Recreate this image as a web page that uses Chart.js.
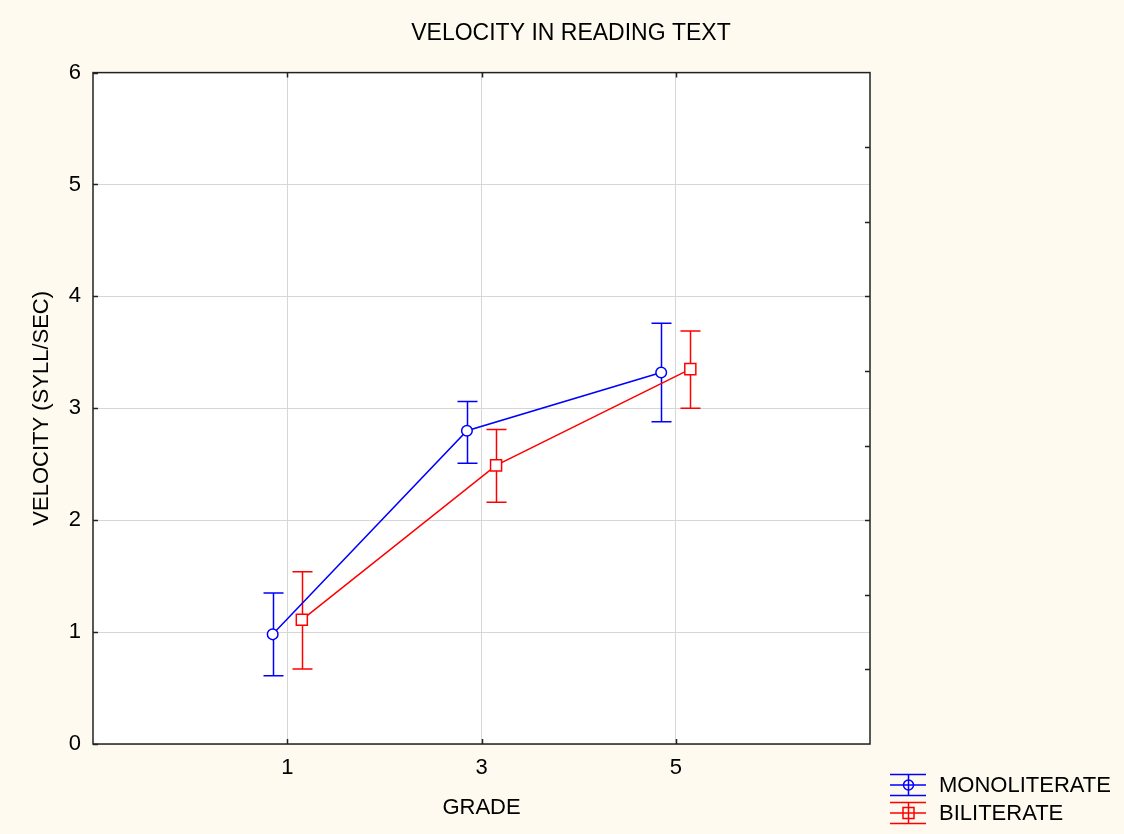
<!DOCTYPE html>
<html><head><meta charset="utf-8">
<script src="https://cdn.jsdelivr.net/npm/chart.js@4/dist/chart.umd.min.js"></script>
<style>html,body{margin:0;padding:0;background:#fefaef;} canvas{display:block;}</style>
</head><body><canvas id="c" width="1124" height="834"></canvas>
<script>
const grades = [1, 3, 5];
const tickLabels = ['1', '3', '5'];
const seriesNames = ['MONOLITERATE', 'BILITERATE'];
const monoMean = [0.98, 2.80, 3.32];
const monoLow  = [0.61, 2.51, 2.88];
const monoHigh = [1.35, 3.06, 3.76];
const biliMean = [1.11, 2.49, 3.35];
const biliLow  = [0.67, 2.16, 3.00];
const biliHigh = [1.54, 2.81, 3.69];

const FONT = "'Liberation Sans', Arial, sans-serif";
const BLUE = '#0000ff', RED = '#ff0000';
const MONO_SHIFT = -0.15, BILI_SHIFT = 0.15;

const decor = {
  id: 'decor',
  beforeDraw(chart) {
    const ctx = chart.ctx, a = chart.chartArea;
    ctx.save();
    ctx.fillStyle = '#fefaef';
    ctx.fillRect(0, 0, chart.width, chart.height);
    ctx.fillStyle = '#ffffff';
    ctx.fillRect(a.left, a.top, a.right - a.left, a.bottom - a.top);
    ctx.restore();
  },
  beforeDatasetsDraw(chart) {
    const ctx = chart.ctx, ys = chart.scales.y;
    ctx.save();
    chart.data.datasets.forEach((ds, di) => {
      const meta = chart.getDatasetMeta(di);
      ctx.strokeStyle = ds.borderColor;
      ctx.lineWidth = 1.5;
      meta.data.forEach((pt, i) => {
        const x = Math.round(pt.x) + 0.5;
        const yl = ys.getPixelForValue(ds.errLow[i]);
        const yh = ys.getPixelForValue(ds.errHigh[i]);
        ctx.beginPath();
        ctx.moveTo(x, yl); ctx.lineTo(x, yh);
        ctx.moveTo(x - 10, yl); ctx.lineTo(x + 10, yl);
        ctx.moveTo(x - 10, yh); ctx.lineTo(x + 10, yh);
        ctx.stroke();
      });
    });
    ctx.restore();
  },
  afterDraw(chart) {
    const ctx = chart.ctx, a = chart.chartArea, ys = chart.scales.y, xs = chart.scales.x;
    ctx.save();
    ctx.strokeStyle = '#222';
    ctx.lineWidth = 1.5;
    ctx.strokeRect(a.left, a.top, a.right - a.left, a.bottom - a.top);
    ctx.lineWidth = 1.5;
    ctx.beginPath();
    ys.ticks.forEach(t => {
      const y = Math.round(ys.getPixelForValue(t.value)) + 0.5;
      ctx.moveTo(a.left, y); ctx.lineTo(a.left + 5, y);
    });
    for (let k = 1; k < 9; k++) {
      const y = Math.round(ys.getPixelForValue(k * 6 / 9)) + 0.5;
      ctx.moveTo(a.right, y); ctx.lineTo(a.right - 5, y);
    }
    xs.ticks.forEach(t => {
      const x = Math.round(xs.getPixelForValue(t.value)) + 0.5;
      ctx.moveTo(x, a.bottom); ctx.lineTo(x, a.bottom - 5);
      ctx.moveTo(x, a.top); ctx.lineTo(x, a.top + 5);
    });
    ctx.stroke();

    // legend
    const rows = [785, 813];
    chart.data.datasets.forEach((ds, di) => {
      const cy = rows[di];
      ctx.strokeStyle = ds.borderColor;
      ctx.lineWidth = 1.5;
      ctx.beginPath();
      [-10.5, 0, 10.5].forEach(d => { ctx.moveTo(890, cy + d); ctx.lineTo(926, cy + d); });
      ctx.moveTo(908.5, cy - 10.5); ctx.lineTo(908.5, cy + 10.5);
      ctx.stroke();
      ctx.beginPath();
      if (ds.pointStyle === 'circle') ctx.arc(908.5, cy, 5, 0, Math.PI * 2);
      else ctx.rect(903, cy - 5.5, 11, 11);
      ctx.stroke();
      ctx.fillStyle = '#000';
      ctx.font = '22px ' + FONT;
      ctx.textBaseline = 'middle';
      ctx.textAlign = 'left';
      ctx.fillText(seriesNames[di], 939, cy + 1);
    });
    ctx.restore();
  }
};

new Chart(document.getElementById('c'), {
  type: 'line',
  data: {
    datasets: [
      {
        label: seriesNames[0],
        data: grades.map((g, i) => ({ x: g + MONO_SHIFT, y: monoMean[i] })),
        errLow: monoLow, errHigh: monoHigh,
        borderColor: BLUE, backgroundColor: '#ffffff', borderWidth: 1.5,
        pointStyle: 'circle', pointRadius: 5.3, pointBorderWidth: 1.5,
        pointBackgroundColor: '#ffffff', pointBorderColor: BLUE, tension: 0
      },
      {
        label: seriesNames[1],
        data: grades.map((g, i) => ({ x: g + BILI_SHIFT, y: biliMean[i] })),
        errLow: biliLow, errHigh: biliHigh,
        borderColor: RED, backgroundColor: '#ffffff', borderWidth: 1.5,
        pointStyle: 'rect', pointRadius: 7.8, pointBorderWidth: 1.5,
        pointBackgroundColor: '#ffffff', pointBorderColor: RED, tension: 0
      }
    ]
  },
  options: {
    responsive: false,
    animation: false,
    devicePixelRatio: 1,
    layout: { padding: { left: 18, right: 0, top: 0, bottom: 0 } },
    plugins: {
      legend: { display: false },
      tooltip: { enabled: false },
      title: {
        display: true, text: 'VELOCITY IN READING TEXT', color: '#000',
        font: { family: FONT, size: 23, weight: 'normal' },
        padding: { top: 20, bottom: 25 }
      }
    },
    scales: {
      x: {
        type: 'linear', min: -1, max: 7,
        afterBuildTicks: s => { s.ticks = grades.map(v => ({ value: v })); },
        afterFit: s => { s.height = 90; },
        ticks: {
          callback: (v, i) => tickLabels[i],
          color: '#000', font: { family: FONT, size: 22 }, padding: 11, maxRotation: 0
        },
        grid: { color: '#d6d6d6', drawTicks: false, lineWidth: 1 },
        border: { display: false },
        title: { display: true, text: 'GRADE', color: '#000', font: { family: FONT, size: 22 }, padding: { top: 0, bottom: 13 } }
      },
      y: {
        min: 0, max: 6,
        afterFit: s => { s.width = 75; },
        ticks: { stepSize: 1, color: '#000', font: { family: FONT, size: 22 }, padding: 12 },
        grid: { color: '#d6d6d6', drawTicks: false, lineWidth: 1 },
        border: { display: false },
        title: { display: true, text: 'VELOCITY (SYLL/SEC)', color: '#000', font: { family: FONT, size: 22 }, padding: { top: 11, bottom: 0 } }
      },
      yR: {
        position: 'right', min: 0, max: 6,
        afterFit: s => { s.width = 254; },
        ticks: { display: false },
        grid: { display: false, drawTicks: false },
        border: { display: false }
      }
    }
  },
  plugins: [decor]
});
</script>
</body></html>
